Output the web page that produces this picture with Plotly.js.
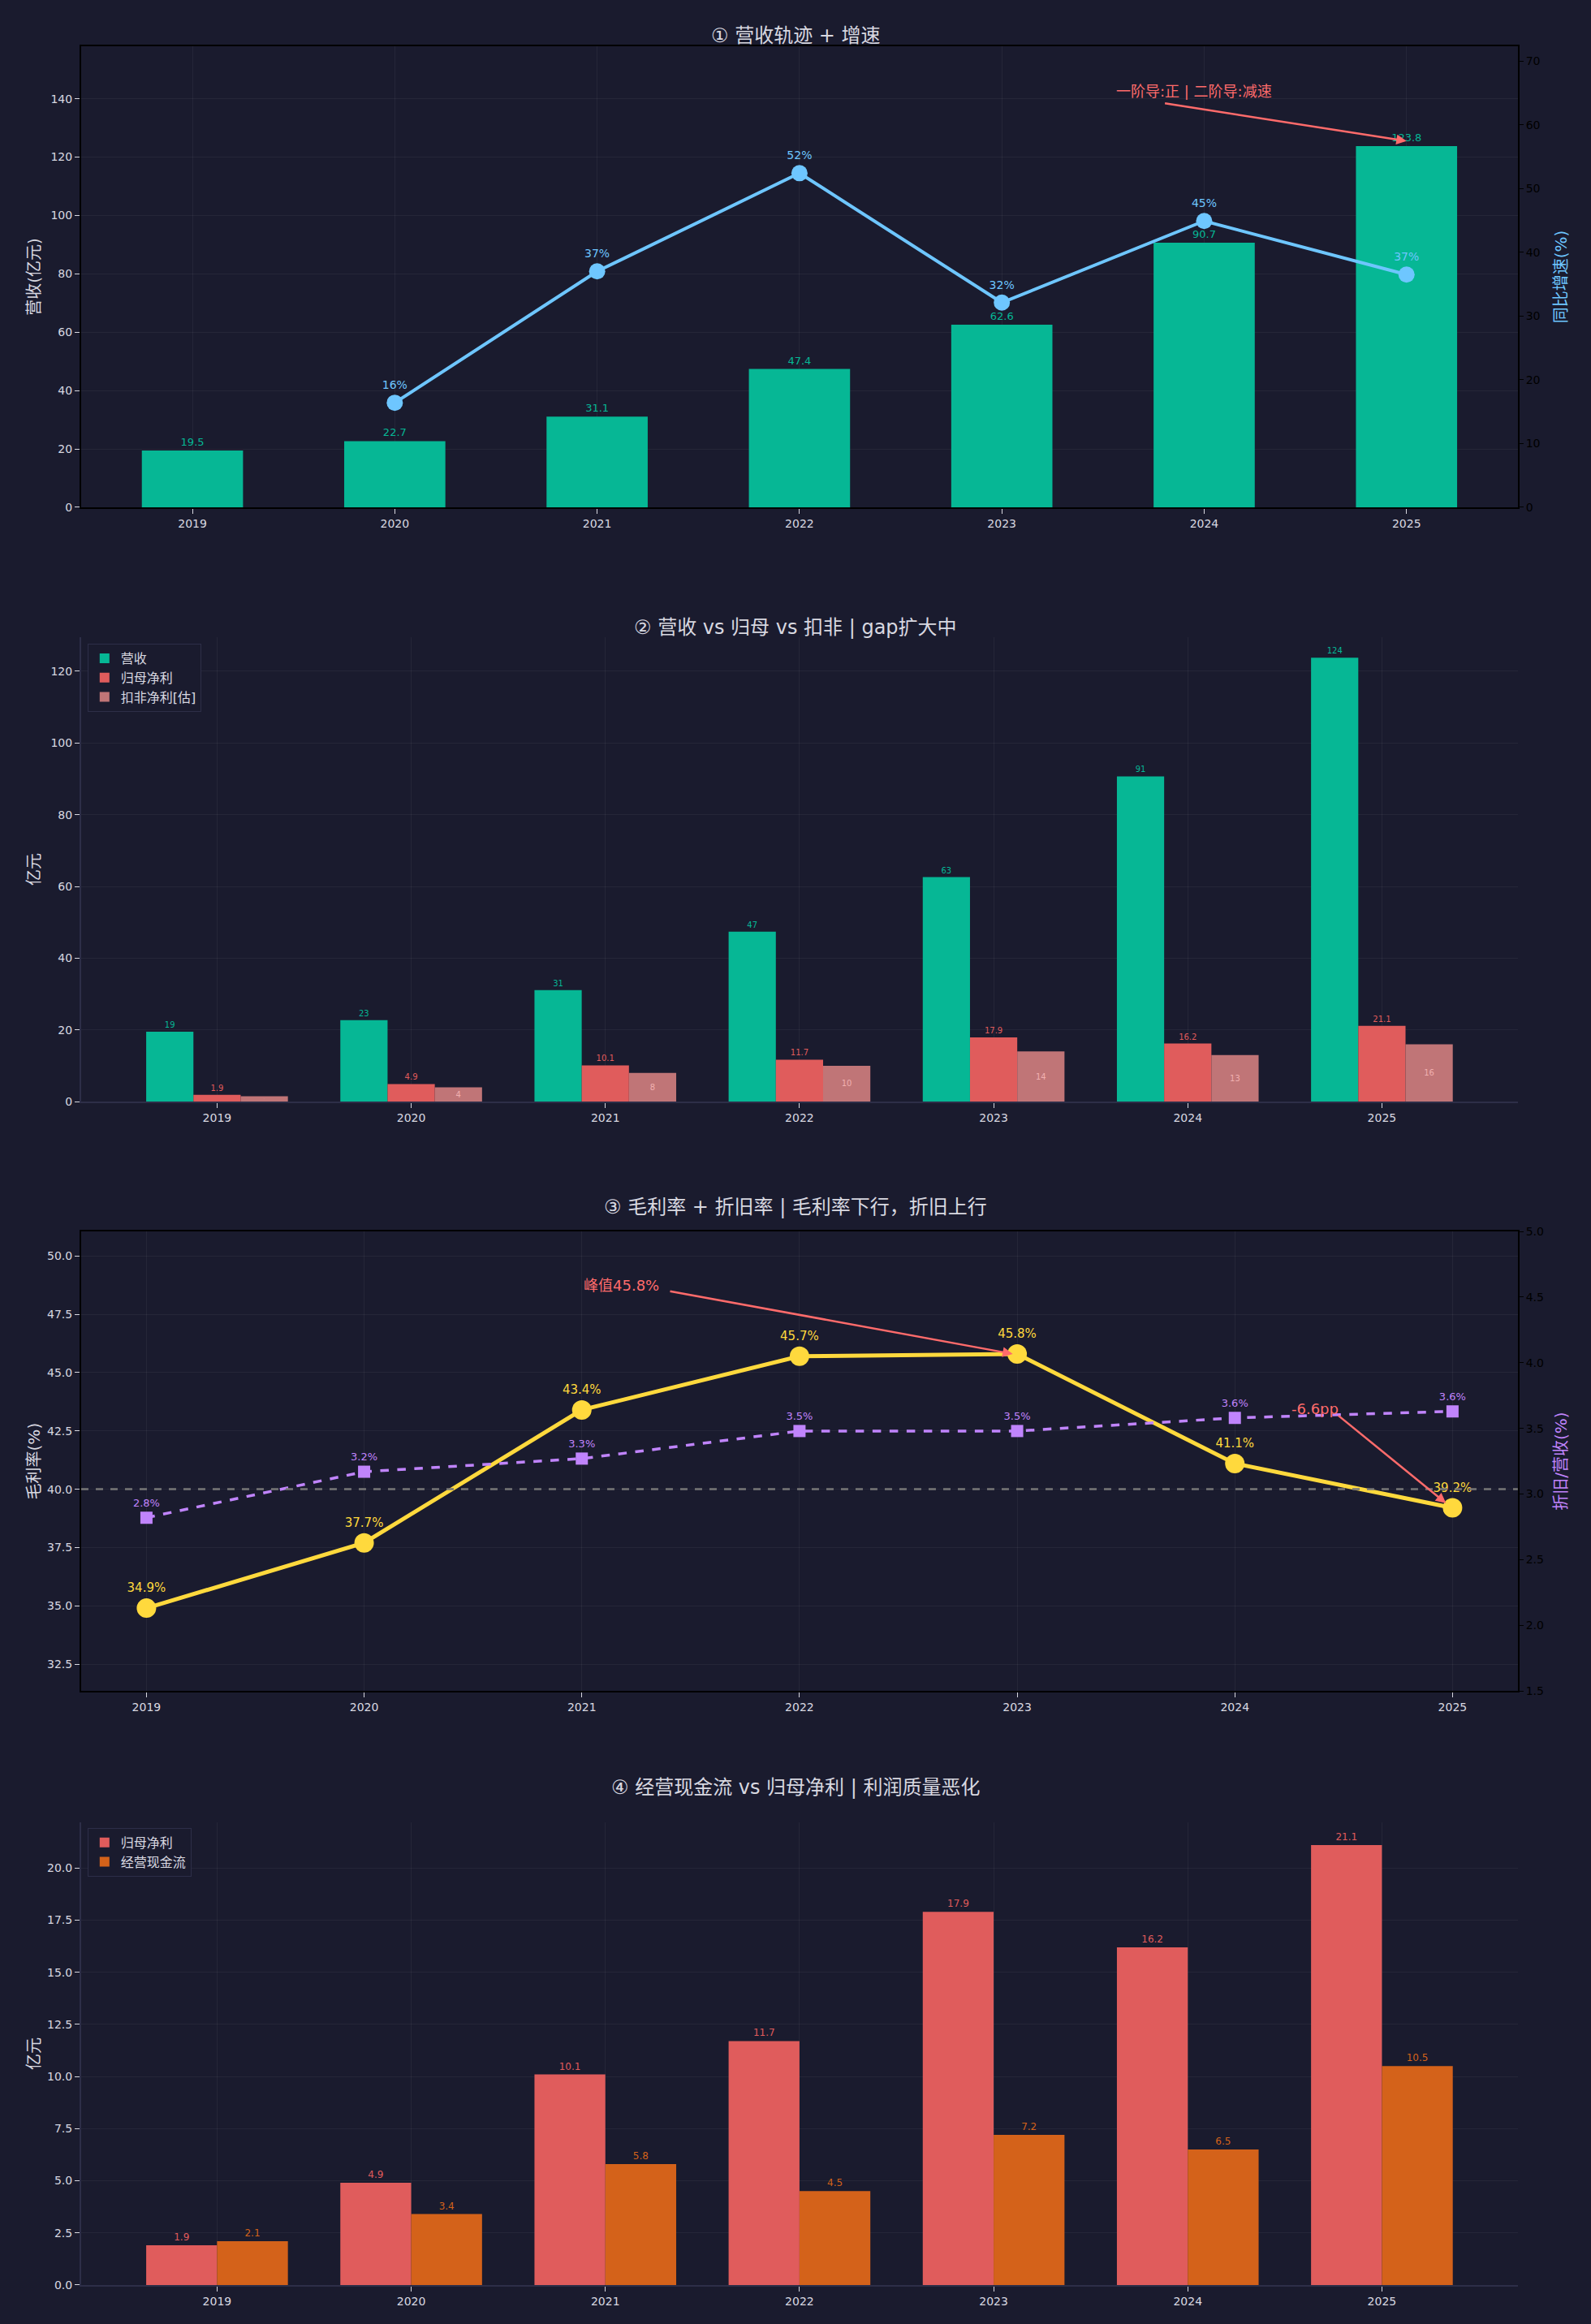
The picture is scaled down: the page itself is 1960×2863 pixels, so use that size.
<!DOCTYPE html>
<html><head><meta charset="utf-8">
<script src="https://cdn.plot.ly/plotly-3.0.1.min.js"></script>
<style>body{margin:0;background:#1a1b2e}</style>
</head><body><div id="chart"></div>
<script>
// data
const years = ["2019", "2020", "2021", "2022", "2023", "2024", "2025"];
const growthYears = ["2020", "2021", "2022", "2023", "2024", "2025"];
const revenue = [19.5, 22.7, 31.1, 47.4, 62.6, 90.7, 123.8];
const revenueShort = ["19", "23", "31", "47", "63", "91", "124"];
const growth = [16.4, 37.0, 52.4, 32.1, 44.9, 36.5];
const netProfit = [1.9, 4.9, 10.1, 11.7, 17.9, 16.2, 21.1];
const deductedProfit = [1.5, 4, 8, 10, 14, 13, 16];
const grossMargin = [34.9, 37.7, 43.4, 45.7, 45.8, 41.1, 39.2];
const deprRate = [2.82, 3.17, 3.27, 3.48, 3.48, 3.58, 3.63];
const opCashFlow = [2.1, 3.4, 5.8, 4.5, 7.2, 6.5, 10.5];

const BG = "#1a1b2e";
const TXT = "#d8d8e0";
const GRID = "rgba(255,255,255,0.05)";
const TEAL = "#06b795";
const RED = "#e05c5c";
const PINK = "#c07577";
const BLUE = "#6ec6ff";
const YELLOW = "#ffd93d";
const PURPLE = "#c084fc";
const ORANGE = "#d4621a";
const FONT = "DejaVu Sans, Noto Sans CJK SC, sans-serif";

const traces = [
  // panel 1
  { type: "bar", x: years, y: revenue, xaxis: "x", yaxis: "y", marker: { color: TEAL }, width: 0.5,
    text: revenue.map((v) => v.toFixed(1)), textposition: "outside", cliponaxis: false,
    textfont: { color: TEAL, size: 13 }, showlegend: false },
  { type: "scatter", mode: "lines+markers+text", x: growthYears, y: growth, xaxis: "x", yaxis: "y2",
    line: { color: BLUE, width: 4 }, marker: { color: BLUE, size: 20 },
    text: growth.map((v) => v.toFixed(0) + "%"), textposition: "top center",
    textfont: { color: BLUE, size: 14 }, showlegend: false },
  // panel 2
  { type: "bar", name: "营收", x: years, y: revenue, xaxis: "x3", yaxis: "y3", marker: { color: TEAL },
    text: revenueShort, textposition: "outside", textfont: { color: TEAL, size: 10 }, legend: "legend" },
  { type: "bar", name: "归母净利", x: years, y: netProfit, xaxis: "x3", yaxis: "y3", marker: { color: RED },
    text: netProfit.map((v) => v.toFixed(1)), textposition: "outside", textfont: { color: RED, size: 10 }, legend: "legend" },
  { type: "bar", name: "扣非净利[估]", x: years, y: deductedProfit, xaxis: "x3", yaxis: "y3", marker: { color: PINK },
    text: deductedProfit.map((v) => v.toFixed(0)), textposition: "inside", insidetextanchor: "middle",
    textfont: { color: "#f0b0b0", size: 10 }, legend: "legend" },
  // panel 3
  { type: "scatter", mode: "lines+markers+text", x: years, y: grossMargin, xaxis: "x4", yaxis: "y4",
    line: { color: YELLOW, width: 5 }, marker: { color: YELLOW, size: 24 },
    text: grossMargin.map((v) => v.toFixed(1) + "%"), textposition: "top center",
    textfont: { color: YELLOW, size: 15 }, showlegend: false },
  { type: "scatter", mode: "lines+markers+text", x: years, y: deprRate, xaxis: "x4", yaxis: "y5",
    line: { color: PURPLE, width: 3.5, dash: "dash" }, marker: { color: PURPLE, size: 15, symbol: "square" },
    text: deprRate.map((v) => v.toFixed(1) + "%"), textposition: "top center",
    textfont: { color: PURPLE, size: 13 }, showlegend: false },
  // panel 4
  { type: "bar", name: "归母净利", x: years, y: netProfit, xaxis: "x6", yaxis: "y6", marker: { color: RED },
    text: netProfit.map((v) => v.toFixed(1)), textposition: "outside", textfont: { color: RED, size: 12 }, legend: "legend2" },
  { type: "bar", name: "经营现金流", x: years, y: opCashFlow, xaxis: "x6", yaxis: "y6", marker: { color: ORANGE },
    text: opCashFlow.map((v) => v.toFixed(1)), textposition: "outside", textfont: { color: ORANGE, size: 12 }, legend: "legend2" },
];

const xd = [0.051, 0.954];
const tickf = { size: 14, color: TXT };
function xAxis(extra) {
  return Object.assign({ domain: xd, type: "category", tickfont: tickf, showgrid: true, gridcolor: GRID,
    ticks: "outside", ticklen: 6, tickcolor: TXT, zeroline: false }, extra);
}
function yAxis(extra) {
  return Object.assign({ tickfont: tickf, showgrid: true, gridcolor: GRID, ticks: "outside", ticklen: 6,
    tickcolor: TXT, zeroline: false }, extra);
}
const frame = { showline: true, linecolor: "#000", linewidth: 2, mirror: true };
const soft = { showline: true, linecolor: "#2d2e48", linewidth: 2 };

const layout = {
  width: 1960, height: 2863,
  paper_bgcolor: BG, plot_bgcolor: BG,
  font: { family: FONT, color: TXT },
  margin: { l: 0, r: 0, t: 0, b: 0 },
  barmode: "group", bargap: 0.27, bargroupgap: 0,
  xaxis: xAxis(Object.assign({ anchor: "y", range: [-0.55, 6.55] }, frame)),
  yaxis: yAxis(Object.assign({ domain: [0.7817, 0.9801], range: [0, 158], dtick: 20,
    title: { text: "营收(亿元)", font: { size: 20, color: TXT } } }, frame)),
  yaxis2: yAxis({ overlaying: "y", side: "right", anchor: "x", range: [0, 72.3], dtick: 10, showgrid: false,
    tickfont: { size: 14, color: "#000" }, tickcolor: "#000",
    title: { text: "同比增速(%)", font: { size: 20, color: BLUE } } }),
  xaxis3: xAxis(Object.assign({ anchor: "y3", range: [-0.7, 6.7] }, soft)),
  yaxis3: yAxis(Object.assign({ domain: [0.526, 0.7258], range: [0, 129.5], dtick: 20,
    title: { text: "亿元", font: { size: 20, color: TXT } } }, soft)),
  xaxis4: xAxis(Object.assign({ anchor: "y4", range: [-0.3, 6.3] }, frame)),
  yaxis4: yAxis(Object.assign({ domain: [0.2724, 0.4701], range: [31.35, 51.05], dtick: 2.5, tickformat: ".1f",
    title: { text: "毛利率(%)", font: { size: 20, color: TXT } } }, frame)),
  yaxis5: yAxis({ overlaying: "y4", side: "right", anchor: "x4", range: [1.5, 5.0], dtick: 0.5, tickformat: ".1f",
    showgrid: false, tickfont: { size: 14, color: "#000" }, tickcolor: "#000",
    title: { text: "折旧/营收(%)", font: { size: 20, color: PURPLE } } }),
  xaxis6: xAxis(Object.assign({ anchor: "y6", range: [-0.7, 6.7] }, soft)),
  yaxis6: yAxis(Object.assign({ domain: [0.0168, 0.2159], range: [0, 22.2], dtick: 2.5, tickformat: ".1f",
    title: { text: "亿元", font: { size: 20, color: TXT } } }, soft)),
  legend: { x: 0.055, y: 0.723, xanchor: "left", yanchor: "top", bgcolor: BG, bordercolor: "#2d2e48", borderwidth: 1,
    font: { size: 16, color: TXT } },
  legend2: { x: 0.055, y: 0.2135, xanchor: "left", yanchor: "top", bgcolor: BG, bordercolor: "#2d2e48", borderwidth: 1,
    font: { size: 16, color: TXT } },
  shapes: [
    { type: "line", xref: "x4 domain", yref: "y4", x0: 0, x1: 1, y0: 40, y1: 40,
      line: { color: "#777", width: 2.5, dash: "dash" } },
  ],
  annotations: [
    { xref: "paper", yref: "paper", x: 0.5, y: 1 - 28 / 2863, text: "① 营收轨迹 + 增速", showarrow: false, font: { size: 24, color: TXT } },
    { xref: "paper", yref: "paper", x: 0.5, y: 1 - 757 / 2863, text: "② 营收 vs 归母 vs 扣非 | gap扩大中", showarrow: false, font: { size: 24, color: TXT } },
    { xref: "paper", yref: "paper", x: 0.5, y: 1 - 1487 / 2863, text: "③ 毛利率 + 折旧率 | 毛利率下行，折旧上行", showarrow: false, font: { size: 24, color: TXT } },
    { xref: "paper", yref: "paper", x: 0.5, y: 1 - 2218 / 2863, text: "④ 经营现金流 vs 归母净利 | 利润质量恶化", showarrow: false, font: { size: 24, color: TXT } },
    { xref: "x", yref: "y", x: 6, y: 125.5, axref: "x", ayref: "y", ax: 4.8, ay: 138.5, text: "", showarrow: true,
      arrowcolor: "#ff6b6b", arrowwidth: 2.5, arrowhead: 2 },
    { xref: "x", yref: "y", x: 4.95, y: 142.5, text: "一阶导:正 | 二阶导:减速", showarrow: false, font: { size: 18, color: "#ff6b6b" } },
    { xref: "x4", yref: "y4", x: 3.98, y: 45.8, axref: "x4", ayref: "y4", ax: 2.4, ay: 48.5, text: "", showarrow: true,
      arrowcolor: "#ff6b6b", arrowwidth: 2.5, arrowhead: 2 },
    { xref: "x4", yref: "y4", x: 2.18, y: 48.75, text: "峰值45.8%", showarrow: false, font: { size: 18, color: "#ff6b6b" } },
    { xref: "x4", yref: "y4", x: 5.97, y: 39.4, axref: "x4", ayref: "y4", ax: 5.47, ay: 43.2, text: "", showarrow: true,
      arrowcolor: "#ff6b6b", arrowwidth: 2.5, arrowhead: 2 },
    { xref: "x4", yref: "y4", x: 5.37, y: 43.45, text: "-6.6pp", showarrow: false, font: { size: 18, color: "#ff6b6b" } },
  ],
};

Plotly.newPlot("chart", traces, layout, { displayModeBar: false });
</script></body></html>
